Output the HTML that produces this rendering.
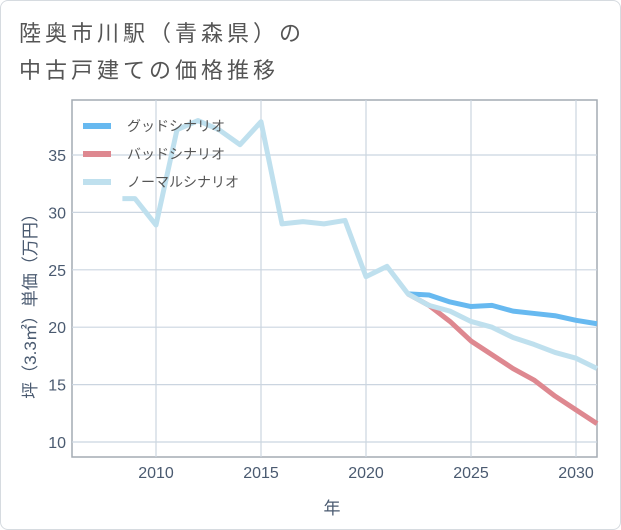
<!DOCTYPE html>
<html><head><meta charset="utf-8"><style>
body{margin:0;background:#fff;}
#card{position:absolute;left:0;top:0;width:619px;height:528px;border:1px solid #d6dbe0;border-radius:8px;background:#fff;}
#title{position:absolute;left:18px;top:14px;font:22px "Liberation Sans","Noto Sans CJK JP",sans-serif;letter-spacing:4px;color:#555;line-height:37px;}
svg{position:absolute;left:0;top:0;}
text{font-family:"Liberation Sans","Noto Sans CJK JP",sans-serif;}
</style></head><body>
<div id="card">
<div id="title">陸奥市川駅（青森県）の<br>中古戸建ての価格推移</div>
</div>
<svg id="chart" width="621" height="530"></svg>
<script>
const years=[2008.4,2009,2010,2011,2012,2013,2014,2015,2016,2017,2018,2019,2020,2021,2022];
const normalHist=[31.2,31.2,28.9,37.2,38.0,37.2,35.9,37.9,29.0,29.2,29.0,29.3,24.4,25.3,22.9];
const futureYears=[2022,2023,2024,2025,2026,2027,2028,2029,2030,2031];
const goodVals=[22.9,22.8,22.2,21.8,21.9,21.4,21.2,21.0,20.6,20.3];
const badVals=[22.9,21.9,20.5,18.8,17.6,16.4,15.4,14.0,12.8,11.6];
const normalFut=[22.9,21.9,21.4,20.5,20.0,19.1,18.5,17.8,17.3,16.4];
const xTicks=[2010,2015,2020,2025,2030];
const yTicks=[10,15,20,25,30,35];
const NS='http://www.w3.org/2000/svg';
const svg=document.getElementById('chart');
const L=72,R=597,T=100,B=457;
const x=v=>156+(v-2010)*21;
const y=v=>442-(v-10)*11.48;
function mk(t,a){const e=document.createElementNS(NS,t);for(const k in a)e.setAttribute(k,a[k]);svg.appendChild(e);return e;}
const frame=mk('rect',{x:L,y:T,width:R-L,height:B-T,fill:'none',stroke:'#a4abb3','stroke-width':1.5});


xTicks.forEach(t=>{
 const g=mk('line',{x1:x(t),x2:x(t),y1:T,y2:B,stroke:'#cbd5e0','stroke-width':1.2});
 
 
 const l=mk('text',{x:x(t),y:478,'text-anchor':'middle','font-size':16,fill:'#4a5a70'});l.textContent=t;
 
 
});
yTicks.forEach(t=>{
 const g=mk('line',{x1:L,x2:R,y1:y(t),y2:y(t),stroke:'#cbd5e0','stroke-width':1.2});
 
 
 const l=mk('text',{x:66,y:y(t)+6,'text-anchor':'end','font-size':16,fill:'#4a5a70'});l.textContent=t;
 
 
});
function line(xs,vs,c,name){
 const p=mk('polyline',{points:xs.map((v,i)=>x(v)+','+y(vs[i])).join(' '),fill:'none',stroke:c,'stroke-width':5,'stroke-linejoin':'round'});
 
 
}
line(futureYears,badVals,'#de8890','bad-scenario-line');
line(futureYears,goodVals,'#67b9f0','good-scenario-line');
line(years.concat(futureYears.slice(1)),normalHist.concat(normalFut.slice(1)),'#bfe0ee','normal-scenario-line');
const leg=[['グッドシナリオ','#67b9f0'],['バッドシナリオ','#de8890'],['ノーマルシナリオ','#bfe0ee']];
leg.forEach((d,i)=>{
 const yy=126+i*28;
 const s=mk('line',{x1:83,x2:111,y1:yy,y2:yy,stroke:d[1],'stroke-width':6});
 
 
 const t=mk('text',{x:127,y:yy+5,'font-size':14,fill:'#555'});t.textContent=d[0];
 
 
});
const xt=mk('text',{x:332,y:514,'text-anchor':'middle','font-size':17,fill:'#4a5a70'});xt.textContent='年';


const yt=mk('text',{x:0,y:0,'text-anchor':'middle','font-size':17,fill:'#4a5a70',transform:'translate(36,302) rotate(-90)'});yt.textContent='坪（3.3㎡）単価（万円）';


</script>
</body></html>
